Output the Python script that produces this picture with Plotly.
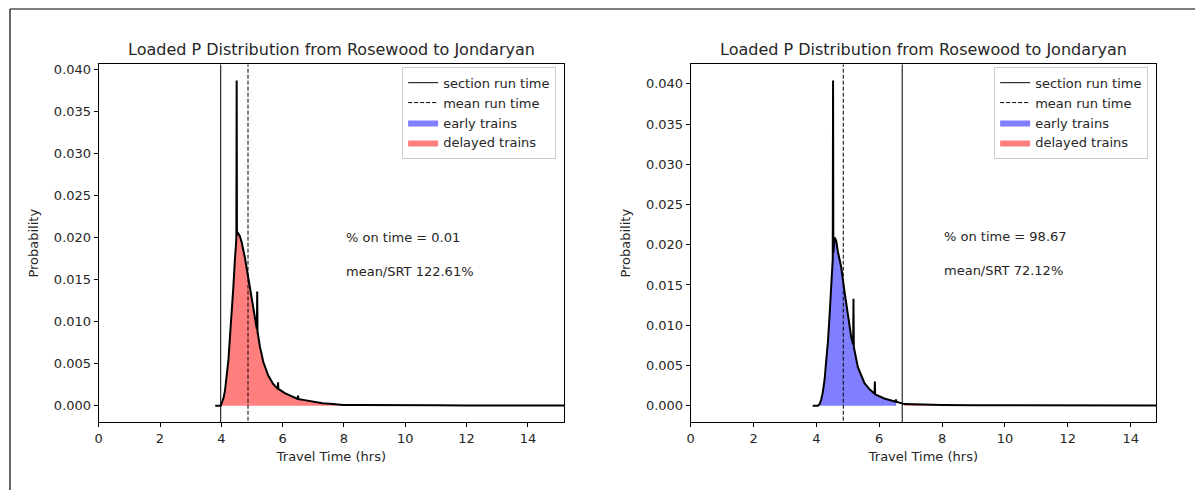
import numpy as np
import plotly.graph_objects as go

# ---------------- data ----------------
title_text = "Loaded P Distribution from Rosewood to Jondaryan"
xtick_vals = [0, 2, 4, 6, 8, 10, 12, 14]
ytick_vals = [0.000, 0.005, 0.010, 0.015, 0.020, 0.025, 0.030, 0.035, 0.040]

# left panel: travel time (hrs) and probability
left_time = [3.80, 3.98, 4.01, 4.07, 4.12, 4.17, 4.23, 4.28, 4.34, 4.39, 4.44, 4.49,
             4.50, 4.51, 4.55, 4.60, 4.66, 4.77, 4.88, 4.99, 5.09, 5.16, 5.17, 5.18,
             5.26, 5.37, 5.53, 5.69, 5.84, 5.85, 5.86, 6.07, 6.34, 6.49, 6.50, 6.51,
             6.67, 6.99, 7.30, 7.64, 7.97, 8.50, 9.00, 10.0, 11.0, 12.0, 13.0, 14.0, 15.3]
left_prob = [0.0, 0.0, 0.0003, 0.0009, 0.0018, 0.0032, 0.0054, 0.0081, 0.0109, 0.0140, 0.0172, 0.0199,
             0.0387, 0.0203, 0.0205, 0.0202, 0.0195, 0.0176, 0.0152, 0.0127, 0.0103, 0.0091, 0.0136, 0.0088,
             0.0070, 0.0052, 0.0036, 0.0026, 0.0020, 0.0028, 0.0020, 0.0015, 0.0010, 0.0008, 0.0012, 0.0008,
             0.0007, 0.0005, 0.0003, 0.0002, 0.0001, 0.00008, 0.00006, 0.00005, 0.00005, 0.00004, 0.00004, 0.00003, 0.00003]
left_srt = 3.98
left_mean = 4.87
left_ontime = "% on time = 0.01"
left_ratio = "mean/SRT 122.61%"
left_xmax = 15.18
left_yrange = [-0.00193, 0.0406]
left_text_y = [0.0200, 0.0160]

# right panel
right_time = [3.88, 4.05, 4.10, 4.15, 4.20, 4.26, 4.31, 4.37, 4.42, 4.47, 4.52, 4.53,
              4.54, 4.58, 4.63, 4.68, 4.79, 4.89, 5.00, 5.11, 5.17, 5.18, 5.19, 5.32,
              5.53, 5.70, 5.85, 5.86, 5.87, 6.16, 6.52, 6.53, 6.54, 6.80, 7.10, 7.50,
              8.00, 9.00, 10.0, 11.0, 12.0, 13.0, 14.0, 14.9]
right_prob = [0.0, 0.0, 0.0002, 0.0007, 0.0016, 0.0032, 0.0055, 0.0081, 0.0113, 0.0147, 0.0182, 0.0404,
              0.0190, 0.0209, 0.0205, 0.0192, 0.0172, 0.0143, 0.0114, 0.0085, 0.0076, 0.0133, 0.0073, 0.0048,
              0.0028, 0.0020, 0.0015, 0.0030, 0.0014, 0.0009, 0.0005, 0.0008, 0.0005, 0.0002, 0.00015, 0.0001,
              0.00008, 0.00006, 0.00005, 0.00005, 0.00004, 0.00004, 0.00003, 0.00003]
right_srt = 6.73
right_mean = 4.855
right_ontime = "% on time = 98.67"
right_ratio = "mean/SRT 72.12%"
right_xmax = 14.81
right_yrange = [-0.00202, 0.0424]
right_text_y = [0.0210, 0.0168]

legend_names = ["section run time", "mean run time", "early trains", "delayed trains"]

# ---------------- layout helpers ----------------
W, H = 1195, 490
FONT = "DejaVu Sans"
TXT = "#262626"


def px(xp):
    return xp / W


def py(yp):
    return 1 - yp / H


panels = [
    dict(t=left_time, p=left_prob, srt=left_srt, mean=left_mean, ontime=left_ontime, ratio=left_ratio,
         xmax=left_xmax, yr=left_yrange, ty=left_text_y, xs="x", ys="y", leg="legend",
         dom=[95, 562]),
    dict(t=right_time, p=right_prob, srt=right_srt, mean=right_mean, ontime=right_ontime, ratio=right_ratio,
         xmax=right_xmax, yr=right_yrange, ty=right_text_y, xs="x2", ys="y2", leg="legend2",
         dom=[689, 1156]),
]

fig = go.Figure()
annotations = []
for pn in panels:
    assert len(pn["t"]) == len(pn["p"])
    t = np.array(pn["t"])
    p = np.array(pn["p"])
    early = t <= pn["srt"]
    late = t >= pn["srt"]
    # fills
    fig.add_trace(go.Scatter(x=t[early], y=p[early], mode="lines", fill="tozeroy",
                             fillcolor="rgba(0,0,255,0.5)", line=dict(width=0, color="rgba(0,0,255,0.5)"),
                             name=legend_names[2], legend=pn["leg"], legendrank=3,
                             xaxis=pn["xs"], yaxis=pn["ys"], hoverinfo="skip"))
    fig.add_trace(go.Scatter(x=t[late], y=p[late], mode="lines", fill="tozeroy",
                             fillcolor="rgba(255,0,0,0.5)", line=dict(width=0, color="rgba(255,0,0,0.5)"),
                             name=legend_names[3], legend=pn["leg"], legendrank=4,
                             xaxis=pn["xs"], yaxis=pn["ys"], hoverinfo="skip"))
    # distribution curve
    fig.add_trace(go.Scatter(x=t, y=p, mode="lines", line=dict(color="black", width=2),
                             showlegend=False, xaxis=pn["xs"], yaxis=pn["ys"]))
    # section run time and mean run time
    fig.add_trace(go.Scatter(x=[pn["srt"], pn["srt"]], y=[-1, 1], mode="lines",
                             line=dict(color="black", width=1), name=legend_names[0],
                             legend=pn["leg"], legendrank=1, xaxis=pn["xs"], yaxis=pn["ys"]))
    fig.add_trace(go.Scatter(x=[pn["mean"], pn["mean"]], y=[-1, 1], mode="lines",
                             line=dict(color="black", width=1, dash="4px,2px"), name=legend_names[1],
                             legend=pn["leg"], legendrank=2, xaxis=pn["xs"], yaxis=pn["ys"]))
    # statistics text
    annotations.append(dict(x=8, y=pn["ty"][0], xref=pn["xs"], yref=pn["ys"], text=pn["ontime"],
                            showarrow=False, xanchor="left", yanchor="middle",
                            font=dict(family=FONT, size=13, color=TXT)))
    annotations.append(dict(x=8, y=pn["ty"][1], xref=pn["xs"], yref=pn["ys"], text=pn["ratio"],
                            showarrow=False, xanchor="left", yanchor="middle",
                            font=dict(family=FONT, size=13, color=TXT)))
    # panel title
    annotations.append(dict(x=px((pn["dom"][0] + pn["dom"][1]) / 2), y=py(48.0), xref="paper", yref="paper",
                            text=title_text, showarrow=False, xanchor="center", yanchor="middle",
                            font=dict(family=FONT, size=16, color=TXT)))

ydom = [py(421.7), py(62.7)]


def xaxis_cfg(pn, anchor):
    return dict(domain=[px(pn["dom"][0]), px(pn["dom"][1])], anchor=anchor, range=[0, pn["xmax"]],
                tickvals=xtick_vals, ticks="outside", ticklen=4, tickwidth=1, tickcolor="black",
                showline=True, linecolor="black", linewidth=1, mirror=True, showgrid=False,
                zeroline=False, tickfont=dict(family=FONT, size=13, color=TXT),
                title=dict(text="Travel Time (hrs)", font=dict(family=FONT, size=13, color=TXT), standoff=7))


def yaxis_cfg(pn, anchor):
    return dict(domain=ydom, anchor=anchor, range=pn["yr"], tickvals=ytick_vals, tickformat=".3f",
                ticks="outside", ticklen=4, tickwidth=1, tickcolor="black",
                showline=True, linecolor="black", linewidth=1, mirror=True, showgrid=False,
                zeroline=False, tickfont=dict(family=FONT, size=13, color=TXT),
                title=dict(text="Probability", font=dict(family=FONT, size=13, color=TXT), standoff=12))


def legend_cfg(pn):
    return dict(x=px(pn["dom"][1] - 8), xanchor="right", y=py(65), yanchor="top",
                bgcolor="rgba(255,255,255,0.8)", bordercolor="#cccccc", borderwidth=1,
                font=dict(family=FONT, size=13, color=TXT), tracegroupgap=0, traceorder="normal")


fig.update_layout(
    width=W, height=H, margin=dict(l=0, r=0, t=0, b=0),
    paper_bgcolor="white", plot_bgcolor="white",
    font=dict(family=FONT, size=13, color=TXT),
    xaxis=xaxis_cfg(panels[0], "y"), yaxis=yaxis_cfg(panels[0], "x"),
    xaxis2=xaxis_cfg(panels[1], "y2"), yaxis2=yaxis_cfg(panels[1], "x2"),
    legend=legend_cfg(panels[0]), legend2=legend_cfg(panels[1]),
    annotations=annotations,
    shapes=[
        dict(type="line", xref="paper", yref="paper", x0=px(6), x1=1, y0=py(7), y1=py(7),
             line=dict(color="#555555", width=1.5)),
        dict(type="line", xref="paper", yref="paper", x0=px(6), x1=px(6), y0=0, y1=py(7),
             line=dict(color="#333333", width=1.5)),
    ],
)

fig.write_html("out.html")
